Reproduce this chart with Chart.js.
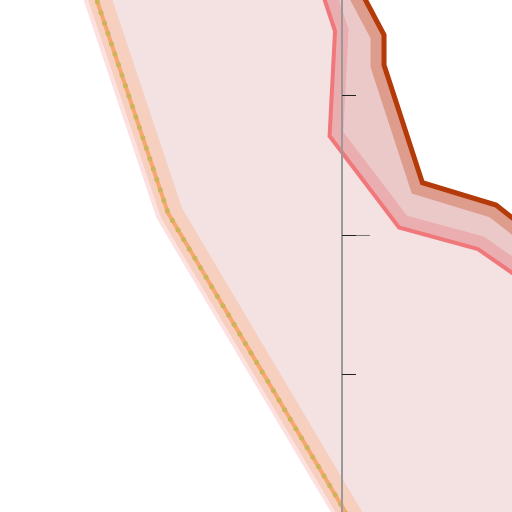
<!DOCTYPE html>
<html>
<head>
<meta charset="utf-8">
<script src="https://cdn.jsdelivr.net/npm/chart.js@4.4.1/dist/chart.umd.min.js"></script>
<style>
html,body{margin:0;padding:0;background:#fff;overflow:hidden}
#wrap{width:512px;height:512px}
</style>
</head>
<body>
<div id="wrap"><canvas id="c" width="512" height="512"></canvas></div>
<script>
// ---- data (chart units; axis at x = 0) ----
const leftX      = [-187.1, -124.3, 39.6];
const leftShadeX = [-184.6, -121.8, 42.1];
const leftY      = [203.6, 15.7, -260.7];

const redX = [-24.3, -5.0, -8.9, 40.7, 97.1, 456.9];
const redY = [203.6, 145.7, 70.7, 5.4, -10.0, -260.7];

const darkX = [-2.1, 30.0, 30.0, 57.4, 110.0, 469.3];
const darkY = [203.6, 142.9, 121.4, 37.4, 21.4, -260.7];

const yTicks     = [100, 0, -100];
const majorTicks = [0];
const axisAt     = [0];
const xRange = [-244.3, 121.4];
const yRange = [-197.9, 167.9];
const whiteEdge = 1000;

const pts = (xs, ys) => xs.map((x, i) => ({ x: x, y: ys[i] }));
const NONE = 'rgba(0,0,0,0)';

const datasets = [
  // 0 red line
  { data: pts(redX, redY), borderColor: '#f0787a', borderWidth: 4, fill: false, order: 1 },
  // 1 dark line
  { data: pts(darkX, darkY), borderColor: '#b43a0a', borderWidth: 5, fill: false, order: 0 },
  // 2 fill between red and dark
  { data: pts(redX, redY), borderColor: NONE, borderWidth: 0, fill: 1, backgroundColor: '#ebc9c9', order: 10 },
  // 3 red band
  { data: pts(redX, redY), borderColor: '#ebaeb0', borderWidth: 27, fill: false, order: 9 },
  // 4 dark band
  { data: pts(darkX, darkY), borderColor: '#de9c8c', borderWidth: 27, fill: false, order: 8 },
  // 5 pale fill between left line and red line
  { data: pts(leftX, leftY), borderColor: NONE, borderWidth: 0, fill: 0, backgroundColor: '#f4e1e2', order: 7 },
  // 6 white beyond dark line
  { data: pts(darkX, darkY), borderColor: NONE, borderWidth: 0, fill: { value: whiteEdge }, backgroundColor: '#ffffff', order: 6 },
  // 7 left pink halo
  { data: pts(leftX, leftY), borderColor: '#fde0e0', borderWidth: 25, fill: false, order: 5 },
  // 8 left peach band
  { data: pts(leftShadeX, leftY), borderColor: '#f6cfbe', borderWidth: 23, fill: false, order: 4 },
  // 9 left orange line
  { data: pts(leftX, leftY), borderColor: '#f8a86e', borderWidth: 4, fill: false, order: 3 },
  // 10 left dotted
  { data: pts(leftX, leftY), borderColor: '#cdb45a', borderWidth: 5, borderDash: [0, 11], borderCapStyle: 'round', fill: false, order: 2 }
];

new Chart(document.getElementById('c'), {
  type: 'line',
  data: { datasets: datasets },
  options: {
    indexAxis: 'y',
    responsive: false,
    animation: false,
    events: [],
    layout: { padding: 0 },
    elements: { point: { radius: 0, hoverRadius: 0 }, line: { tension: 0 } },
    plugins: { legend: { display: false }, tooltip: { enabled: false }, title: { display: false } },
    scales: {
      x: {
        type: 'linear', min: xRange[0], max: xRange[1],
        position: { y: 0 },
        afterBuildTicks: s => { s.ticks = axisAt.map(v => ({ value: v })); },
        ticks: { display: false },
        grid: { drawOnChartArea: true, drawTicks: false, color: '#999999', lineWidth: 2, z: 1 },
        border: { display: false }
      },
      y: {
        type: 'linear', axis: 'y', min: yRange[0], max: yRange[1],
        position: { x: 0 },
        afterBuildTicks: s => { s.ticks = yTicks.map(v => ({ value: v })); },
        ticks: { display: false },
        grid: { drawOnChartArea: false, tickLength: -14, tickColor: '#222', tickWidth: 1, z: 3 },
        border: { display: false }
      },
      y2: {
        type: 'linear', axis: 'y', min: yRange[0], max: yRange[1],
        position: { x: 0 },
        afterBuildTicks: s => { s.ticks = majorTicks.map(v => ({ value: v })); },
        ticks: { display: false },
        grid: { drawOnChartArea: false, tickLength: -28, tickColor: '#777', tickWidth: 1, z: 2 },
        border: { display: false }
      }
    }
  }
});
</script>
</body>
</html>
